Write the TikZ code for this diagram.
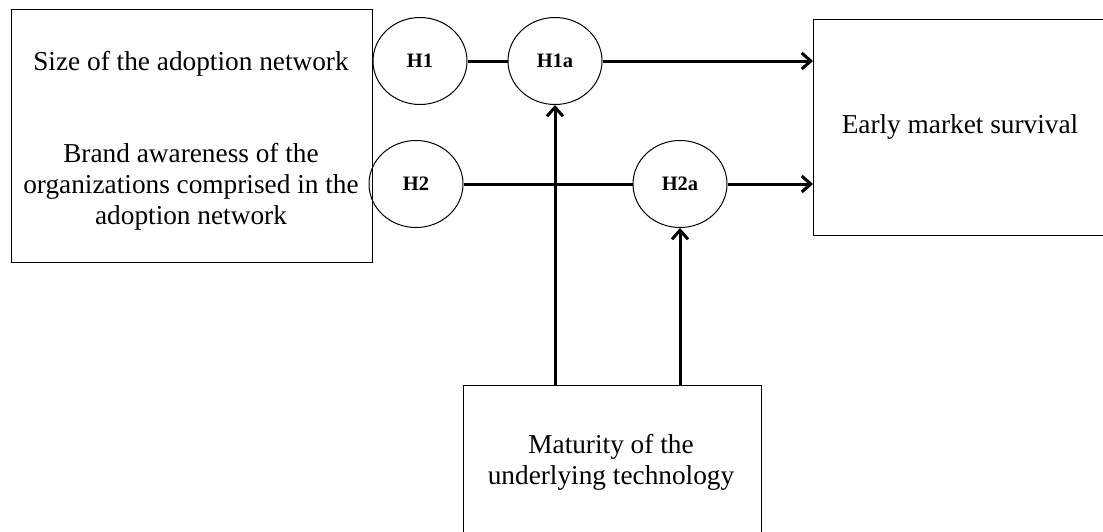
\documentclass[tikz,border=0pt]{standalone}
\usepackage{fontspec}
\setmainfont{Liberation Serif}
\usetikzlibrary{arrows.meta,shapes.geometric}
\tikzset{
  box/.style={draw,line width=1pt,inner sep=0pt},
  hyp/.style={draw,ellipse,line width=1pt,inner sep=0pt,minimum width=94pt,minimum height=87pt,font=\fontsize{20.5}{23}\selectfont\bfseries},
  link/.style={line width=3pt},
  arr/.style={line width=3pt,-{Straight Barb[length=9pt,width=16pt]}},
  lbl/.style={font=\fontsize{27.3}{31}\selectfont,align=center,inner sep=0pt}
}

\begin{document}
\begin{tikzpicture}[x=1pt,y=-1pt]
            \useasboundingbox (0,0) rectangle (1103,531);
            % boxes
            \node[box,minimum width=361pt,minimum height=253pt] (inbox) at (191.5,135.5) {};
            \node[lbl] (size) at (191,64) {Size of the adoption network};
            \node[lbl] (brand) at (191,187) {Brand awareness of the\\organizations comprised in the\\adoption network};
            \node[box,minimum width=300pt,minimum height=216pt,anchor=north west] (surv) at (813,19) {};
            \node[lbl] (survtxt) at (960,127) {Early market survival};
            \node[box,minimum width=298pt,minimum height=154pt,anchor=north west] (mat) at (463,385) {};
            \node[lbl] (mattxt) at (611,462) {Maturity of the\\underlying technology};
            % hypotheses
            \node[hyp] (h1) at (420,61) {H1};
            \node[hyp] (h1a) at (555,61) {H1a};
            \node[hyp] (h2) at (416,184) {H2};
            \node[hyp] (h2a) at (680,184) {H2a};
            % links
            \draw[link] (h1) -- (h1a);
            \draw[arr] (h1a) -- (h1a -| surv.west);
            \draw[link] (h2) -- (h2a);
            \draw[arr] (h2a) -- (h2a -| surv.west);
            \draw[arr] (h1a |- mat.north) -- (h1a);
            \draw[arr] (h2a |- mat.north) -- (h2a);
        \end{tikzpicture}
\end{document}
